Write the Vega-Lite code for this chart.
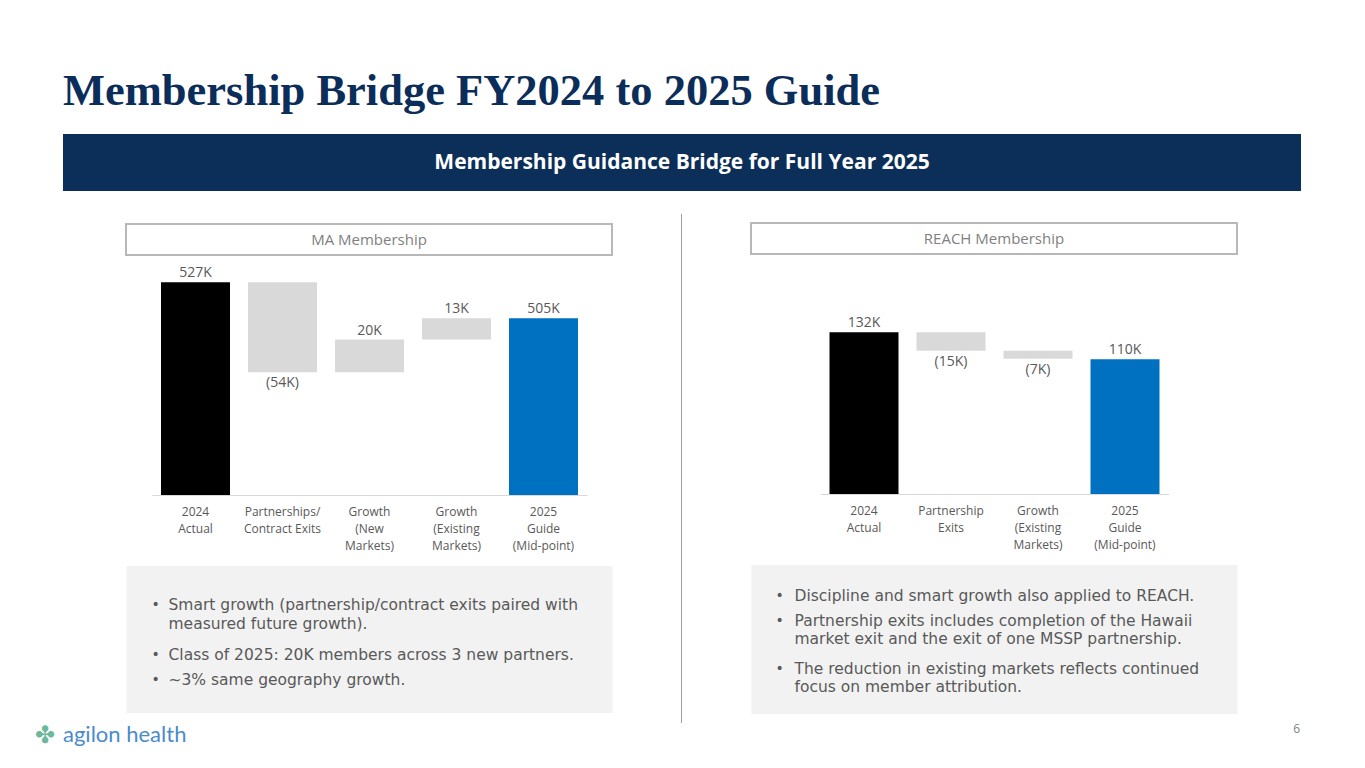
{
  "$schema": "https://vega.github.io/schema/vega-lite/v6.json",
  "padding": {"left": 35, "top": 68, "right": 0, "bottom": 0},
  "background": "white",
  "config": {
    "view": {"stroke": null},
    "font": "Open Sans",
    "text": {"font": "Open Sans"},
    "axis": {"labelFont": "Open Sans"}
  },
  "title": {
    "text": "Membership Bridge FY2024 to 2025 Guide",
    "anchor": "start",
    "frame": "group",
    "dx": 28,
    "offset": 20,
    "font": "Liberation Serif",
    "fontSize": 44.5,
    "fontWeight": "bold",
    "color": "#0b2d59"
  },
  "spacing": 0,
  "center": true,
  "align": "each",
  "vconcat": [
    {
      "width": 1238,
      "height": 57,
      "view": {"fill": "#0b2f58", "stroke": null},
      "data": {"values": [{"t": "Membership Guidance Bridge for Full Year 2025"}]},
      "mark": {"type": "text", "color": "white", "fontSize": 21, "fontWeight": "bold", "font": "Open Sans"},
      "encoding": {"text": {"field": "t"}}
    },
    {
      "width": 1,
      "height": 23,
      "data": {"values": []},
      "mark": "point",
      "encoding": {}
    },
    {
      "spacing": 68,
      "center": true,
      "align": "each",
      "hconcat": [
        {
          "spacing": 15,
          "center": true,
          "align": "each",
          "vconcat": [
            {
              "spacing": 2,
              "center": true,
              "align": "each",
              "vconcat": [
                {
                  "width": 486,
                  "height": 31,
                  "view": {"stroke": "#b8b8b8", "strokeWidth": 2, "fill": "white"},
                  "data": {"values": [{"t": "MA Membership"}]},
                  "mark": {"type": "text", "fontSize": 15, "color": "#7f7f7f"},
                  "encoding": {"text": {"field": "t"}}
                },
                {
                  "width": 435,
                  "height": 237,
                  "data": {"values": [
                    {"step": "2024|Actual", "lo": 0, "hi": 527, "label": "527K", "kind": "Actual", "pos": "above"},
                    {"step": "Partnerships/|Contract Exits", "lo": 472, "hi": 527, "label": "(54K)", "kind": "Change", "pos": "below"},
                    {"step": "Growth|(New|Markets)", "lo": 472, "hi": 492, "label": "20K", "kind": "Change", "pos": "above"},
                    {"step": "Growth|(Existing|Markets)", "lo": 492, "hi": 505, "label": "13K", "kind": "Change", "pos": "above"},
                    {"step": "2025|Guide|(Mid-point)", "lo": 0, "hi": 505, "label": "505K", "kind": "Guide", "pos": "above"}
                  ]},
                  "encoding": {
                    "x": {
                      "field": "step", "type": "nominal", "sort": null,
                      "scale": {"paddingInner": 0.207, "paddingOuter": 0.1035},
                      "axis": {"title": null, "labelAngle": 0, "ticks": false, "domainColor": "#d9d9d9", "labelExpr": "split(datum.label, '|')", "labelFontSize": 12, "labelColor": "#595959", "labelLineHeight": 17, "labelPadding": 11, "labelBaseline": "top", "zindex": 1}
                    }
                  },
                  "layer": [
                    {
                      "mark": {"type": "bar", "clip": true},
                      "encoding": {
                        "y": {"field": "lo", "type": "quantitative", "scale": {"domain": [397, 541.9], "zero": false, "nice": false}, "axis": null},
                        "y2": {"field": "hi"},
                        "color": {"field": "kind", "type": "nominal", "scale": {"domain": ["Actual", "Change", "Guide"], "range": ["#000000", "#d9d9d9", "#0070c0"]}, "legend": null}
                      }
                    },
                    {
                      "transform": [{"filter": "datum.pos == 'above'"}],
                      "mark": {"type": "text", "baseline": "alphabetic", "dy": -5, "fontSize": 14, "color": "#595959"},
                      "encoding": {"y": {"field": "hi", "type": "quantitative"}, "text": {"field": "label"}}
                    },
                    {
                      "transform": [{"filter": "datum.pos == 'below'"}],
                      "mark": {"type": "text", "baseline": "top", "dy": 4, "fontSize": 14, "color": "#595959"},
                      "encoding": {"y": {"field": "lo", "type": "quantitative"}, "text": {"field": "label"}}
                    }
                  ]
                }
              ]
            },
            {
              "width": 486,
              "height": 147,
              "view": {"fill": "#f2f2f2", "stroke": null},
              "data": {"values": [
                {"start": 0, "lines": ["Smart growth (partnership/contract exits paired with", "measured future growth)."]},
                {"start": 2, "lines": ["Class of 2025:  20K members across 3 new partners."]},
                {"start": 3, "lines": ["~3% same geography growth."]}
              ]},
              "encoding": {
                "x": {"datum": 0, "type": "quantitative", "scale": {"domain": [0, 1]}, "axis": null},
                "y": {"field": "start", "type": "quantitative", "scale": {"domain": [-1.28, 4.6], "reverse": true, "zero": false, "nice": false}, "axis": null}
              },
              "layer": [
                {"mark": {"type": "text", "text": "•", "align": "left", "baseline": "top", "dx": 25, "fontSize": 14, "color": "#595959", "font": "DejaVu Sans"}},
                {"mark": {"type": "text", "align": "left", "baseline": "top", "dx": 42, "fontSize": 15.5, "lineHeight": 19, "color": "#595959", "font": "DejaVu Sans"}, "encoding": {"text": {"field": "lines"}}}
              ]
            }
          ]
        },
        {
          "width": 1,
          "height": 509,
          "view": {"fill": "#a0a0a0", "stroke": null},
          "data": {"values": []},
          "mark": "point",
          "encoding": {}
        },
        {
          "spacing": 15,
          "center": true,
          "align": "each",
          "vconcat": [
            {
              "spacing": 2,
              "center": true,
              "align": "each",
              "vconcat": [
                {
                  "width": 486,
                  "height": 31,
                  "view": {"stroke": "#b8b8b8", "strokeWidth": 2, "fill": "white"},
                  "data": {"values": [{"t": "REACH Membership"}]},
                  "mark": {"type": "text", "fontSize": 15, "color": "#7f7f7f"},
                  "encoding": {"text": {"field": "t"}}
                },
                {
                  "width": 348,
                  "height": 237,
                  "data": {"values": [
                    {"step": "2024|Actual", "lo": 0, "hi": 132, "label": "132K", "kind": "Actual", "pos": "above"},
                    {"step": "Partnership|Exits", "lo": 117, "hi": 132, "label": "(15K)", "kind": "Change", "pos": "below"},
                    {"step": "Growth|(Existing|Markets)", "lo": 110.5, "hi": 117, "label": "(7K)", "kind": "Change", "pos": "below"},
                    {"step": "2025|Guide|(Mid-point)", "lo": 0, "hi": 110, "label": "110K", "kind": "Guide", "pos": "above"}
                  ]},
                  "encoding": {
                    "x": {
                      "field": "step", "type": "nominal", "sort": null,
                      "scale": {"paddingInner": 0.207, "paddingOuter": 0.1035},
                      "axis": {"title": null, "labelAngle": 0, "ticks": false, "domainColor": "#d9d9d9", "labelExpr": "split(datum.label, '|')", "labelFontSize": 12, "labelColor": "#595959", "labelLineHeight": 17, "labelPadding": 11, "labelBaseline": "top", "zindex": 1}
                    }
                  },
                  "layer": [
                    {
                      "mark": {"type": "bar"},
                      "encoding": {
                        "y": {"field": "lo", "type": "quantitative", "scale": {"domain": [0, 193.5], "nice": false}, "axis": null},
                        "y2": {"field": "hi"},
                        "color": {"field": "kind", "type": "nominal", "scale": {"domain": ["Actual", "Change", "Guide"], "range": ["#000000", "#d9d9d9", "#0070c0"]}, "legend": null}
                      }
                    },
                    {
                      "transform": [{"filter": "datum.pos == 'above'"}],
                      "mark": {"type": "text", "baseline": "alphabetic", "dy": -5, "fontSize": 14, "color": "#595959"},
                      "encoding": {"y": {"field": "hi", "type": "quantitative"}, "text": {"field": "label"}}
                    },
                    {
                      "transform": [{"filter": "datum.pos == 'below'"}],
                      "mark": {"type": "text", "baseline": "top", "dy": 4, "fontSize": 14, "color": "#595959"},
                      "encoding": {"y": {"field": "lo", "type": "quantitative"}, "text": {"field": "label"}}
                    }
                  ]
                }
              ]
            },
            {
              "width": 486,
              "height": 149,
              "view": {"fill": "#f2f2f2", "stroke": null},
              "data": {"values": [
                {"start": 0, "lines": ["Discipline and smart growth also applied to REACH."]},
                {"start": 1, "lines": ["Partnership exits includes completion of the Hawaii", "market exit and the exit of one MSSP partnership."]},
                {"start": 3, "lines": ["The reduction in existing markets reflects continued", "focus on member attribution."]}
              ]},
              "encoding": {
                "x": {"datum": 0, "type": "quantitative", "scale": {"domain": [0, 1]}, "axis": null},
                "y": {"field": "start", "type": "quantitative", "scale": {"domain": [-1.0, 5.13], "reverse": true, "zero": false, "nice": false}, "axis": null}
              },
              "layer": [
                {"mark": {"type": "text", "text": "•", "align": "left", "baseline": "top", "dx": 24, "fontSize": 14, "color": "#595959", "font": "DejaVu Sans"}},
                {"mark": {"type": "text", "align": "left", "baseline": "top", "dx": 43, "fontSize": 15.5, "lineHeight": 18, "color": "#595959", "font": "DejaVu Sans"}, "encoding": {"text": {"field": "lines"}}}
              ]
            }
          ]
        }
      ]
    },
    {
      "width": 1294,
      "height": 30,
      "data": {"values": [{"side": "left", "t": "agilon health"}, {"side": "right", "t": "6"}]},
      "encoding": {
        "x": {"field": "side", "type": "nominal", "scale": {"type": "point", "domain": ["left", "right"], "padding": 0}, "axis": null}
      },
      "layer": [
        {
          "transform": [{"filter": "datum.side == 'left'"}],
          "mark": {"type": "text", "text": "✤", "align": "left", "dy": -2, "fontSize": 24, "color": "#6cb89a", "font": "DejaVu Sans"}
        },
        {
          "transform": [{"filter": "datum.side == 'left'"}],
          "mark": {"type": "text", "align": "left", "dx": 28, "dy": -3, "fontSize": 22, "color": "#4a8bcb", "font": "Lato"},
          "encoding": {"text": {"field": "t"}}
        },
        {
          "transform": [{"filter": "datum.side == 'right'"}],
          "mark": {"type": "text", "align": "right", "dx": -29, "dy": -9, "fontSize": 12, "color": "#7f7f7f"},
          "encoding": {"text": {"field": "t"}}
        }
      ]
    }
  ]
}
